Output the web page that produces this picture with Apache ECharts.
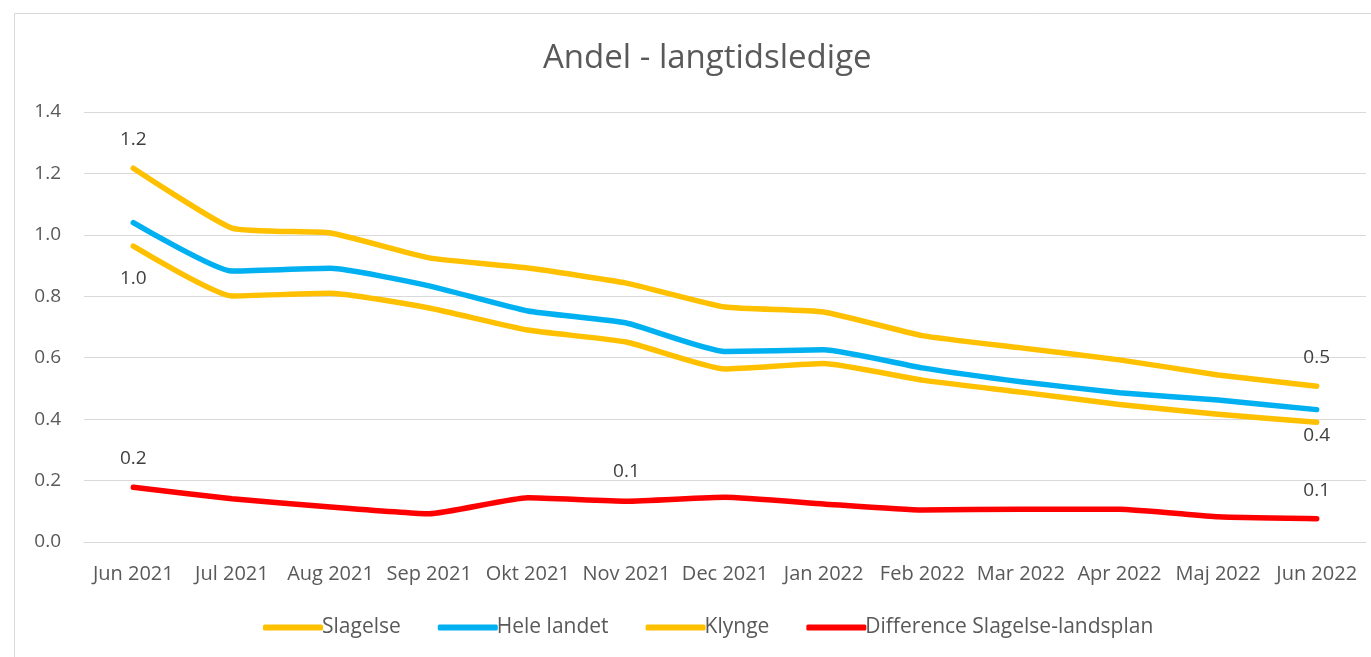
<!DOCTYPE html>
<html><head><meta charset="utf-8">
<script src="https://cdn.jsdelivr.net/npm/echarts@6/dist/echarts.min.js"></script>
<style>html,body{margin:0;padding:0;background:#fff}#c{width:1371px;height:657px}</style>
</head><body><div id="c"></div>
<script>
const categories = ['Jun 2021','Jul 2021','Aug 2021','Sep 2021','Okt 2021','Nov 2021','Dec 2021','Jan 2022','Feb 2022','Mar 2022','Apr 2022','Maj 2022','Jun 2022'];
const slagelse = [1.217,1.022,1.006,0.925,0.892,0.843,0.765,0.749,0.672,0.632,0.593,0.544,0.507];
const heleLandet = [1.040,0.882,0.891,0.834,0.752,0.713,0.620,0.626,0.567,0.522,0.486,0.462,0.431];
const klynge = [0.963,0.801,0.810,0.762,0.690,0.651,0.563,0.581,0.527,0.488,0.448,0.416,0.390];
const difference = [0.178,0.141,0.114,0.092,0.144,0.133,0.146,0.124,0.104,0.107,0.107,0.082,0.076];
const yTicks = {min:0, max:1.4, interval:0.2};

const FONT = 'Open Sans';
const lblStyle = {show:true, fontFamily:FONT, fontSize:19, color:'#404040', formatter: p => p.value.toFixed(1)};
function withLabels(arr, idxMap){
  return arr.map((v,i)=> idxMap[i] ? {value:v, label:Object.assign({}, lblStyle, idxMap[i])} : v);
}
function lineSeries(name, color, data){
  return {name, type:'line', smooth:0.15, symbol:'circle', symbolSize:0.01, showSymbol:true,
    itemStyle:{color:color}, lineStyle:{width:5.5, color:color, cap:'round', join:'round'},
    label:{show:false}, data};
}
const chart = echarts.init(document.getElementById('c'));
chart.setOption({
  animation:false,
  graphic:[{type:'rect', shape:{x:14.5,y:13.5,width:1400,height:700}, style:{fill:'none', stroke:'#d9d9d9', lineWidth:1}, silent:true}],
  title:{text:'Andel - langtidsledige', left:538, top:37, textStyle:{fontFamily:FONT, fontSize:33, fontWeight:'normal', color:'#595959'}},
  grid:{left:84, right:5, top:112, bottom:115, containLabel:false},
  xAxis:{type:'category', data:categories, boundaryGap:true,
    axisLine:{show:true, lineStyle:{color:'#d9d9d9'}}, axisTick:{show:false},
    axisLabel:{fontFamily:FONT, fontSize:20, color:'#595959', margin:22, interval:0}},
  yAxis:{type:'value', min:yTicks.min, max:yTicks.max, interval:yTicks.interval,
    axisLine:{show:false}, axisTick:{show:false},
    splitLine:{lineStyle:{color:'#d9d9d9', width:1}},
    axisLabel:{fontFamily:FONT, fontSize:19, color:'#595959', margin:23, formatter:v=>v.toFixed(1)}},
  legend:{bottom:14, left:258, itemGap:37, itemWidth:60, itemHeight:6,
    textStyle:{fontFamily:FONT, fontSize:21, color:'#595959', padding:[0,0,0,-6]},
    data:[
      {name:'Slagelse',icon:'roundRect',itemStyle:{color:'#FFC000'}},
      {name:'Hele landet',icon:'roundRect',itemStyle:{color:'#00B0F0'}},
      {name:'Klynge',icon:'roundRect',itemStyle:{color:'#FFC000'}},
      {name:'Difference Slagelse-landsplan',icon:'roundRect',itemStyle:{color:'#FF0000'}}]},
  series:[
    lineSeries('Slagelse','#FFC000', withLabels(slagelse,{0:{position:'top',distance:19},12:{position:'top',distance:19}})),
    lineSeries('Hele landet','#00B0F0', heleLandet),
    lineSeries('Klynge','#FFC000', withLabels(klynge,{0:{position:'bottom',distance:23},12:{position:'bottom',distance:4}})),
    lineSeries('Difference Slagelse-landsplan','#FF0000', withLabels(difference,{0:{position:'top',distance:19},5:{position:'top',distance:20},12:{position:'top',distance:19}}))
  ]
});
</script></body></html>
